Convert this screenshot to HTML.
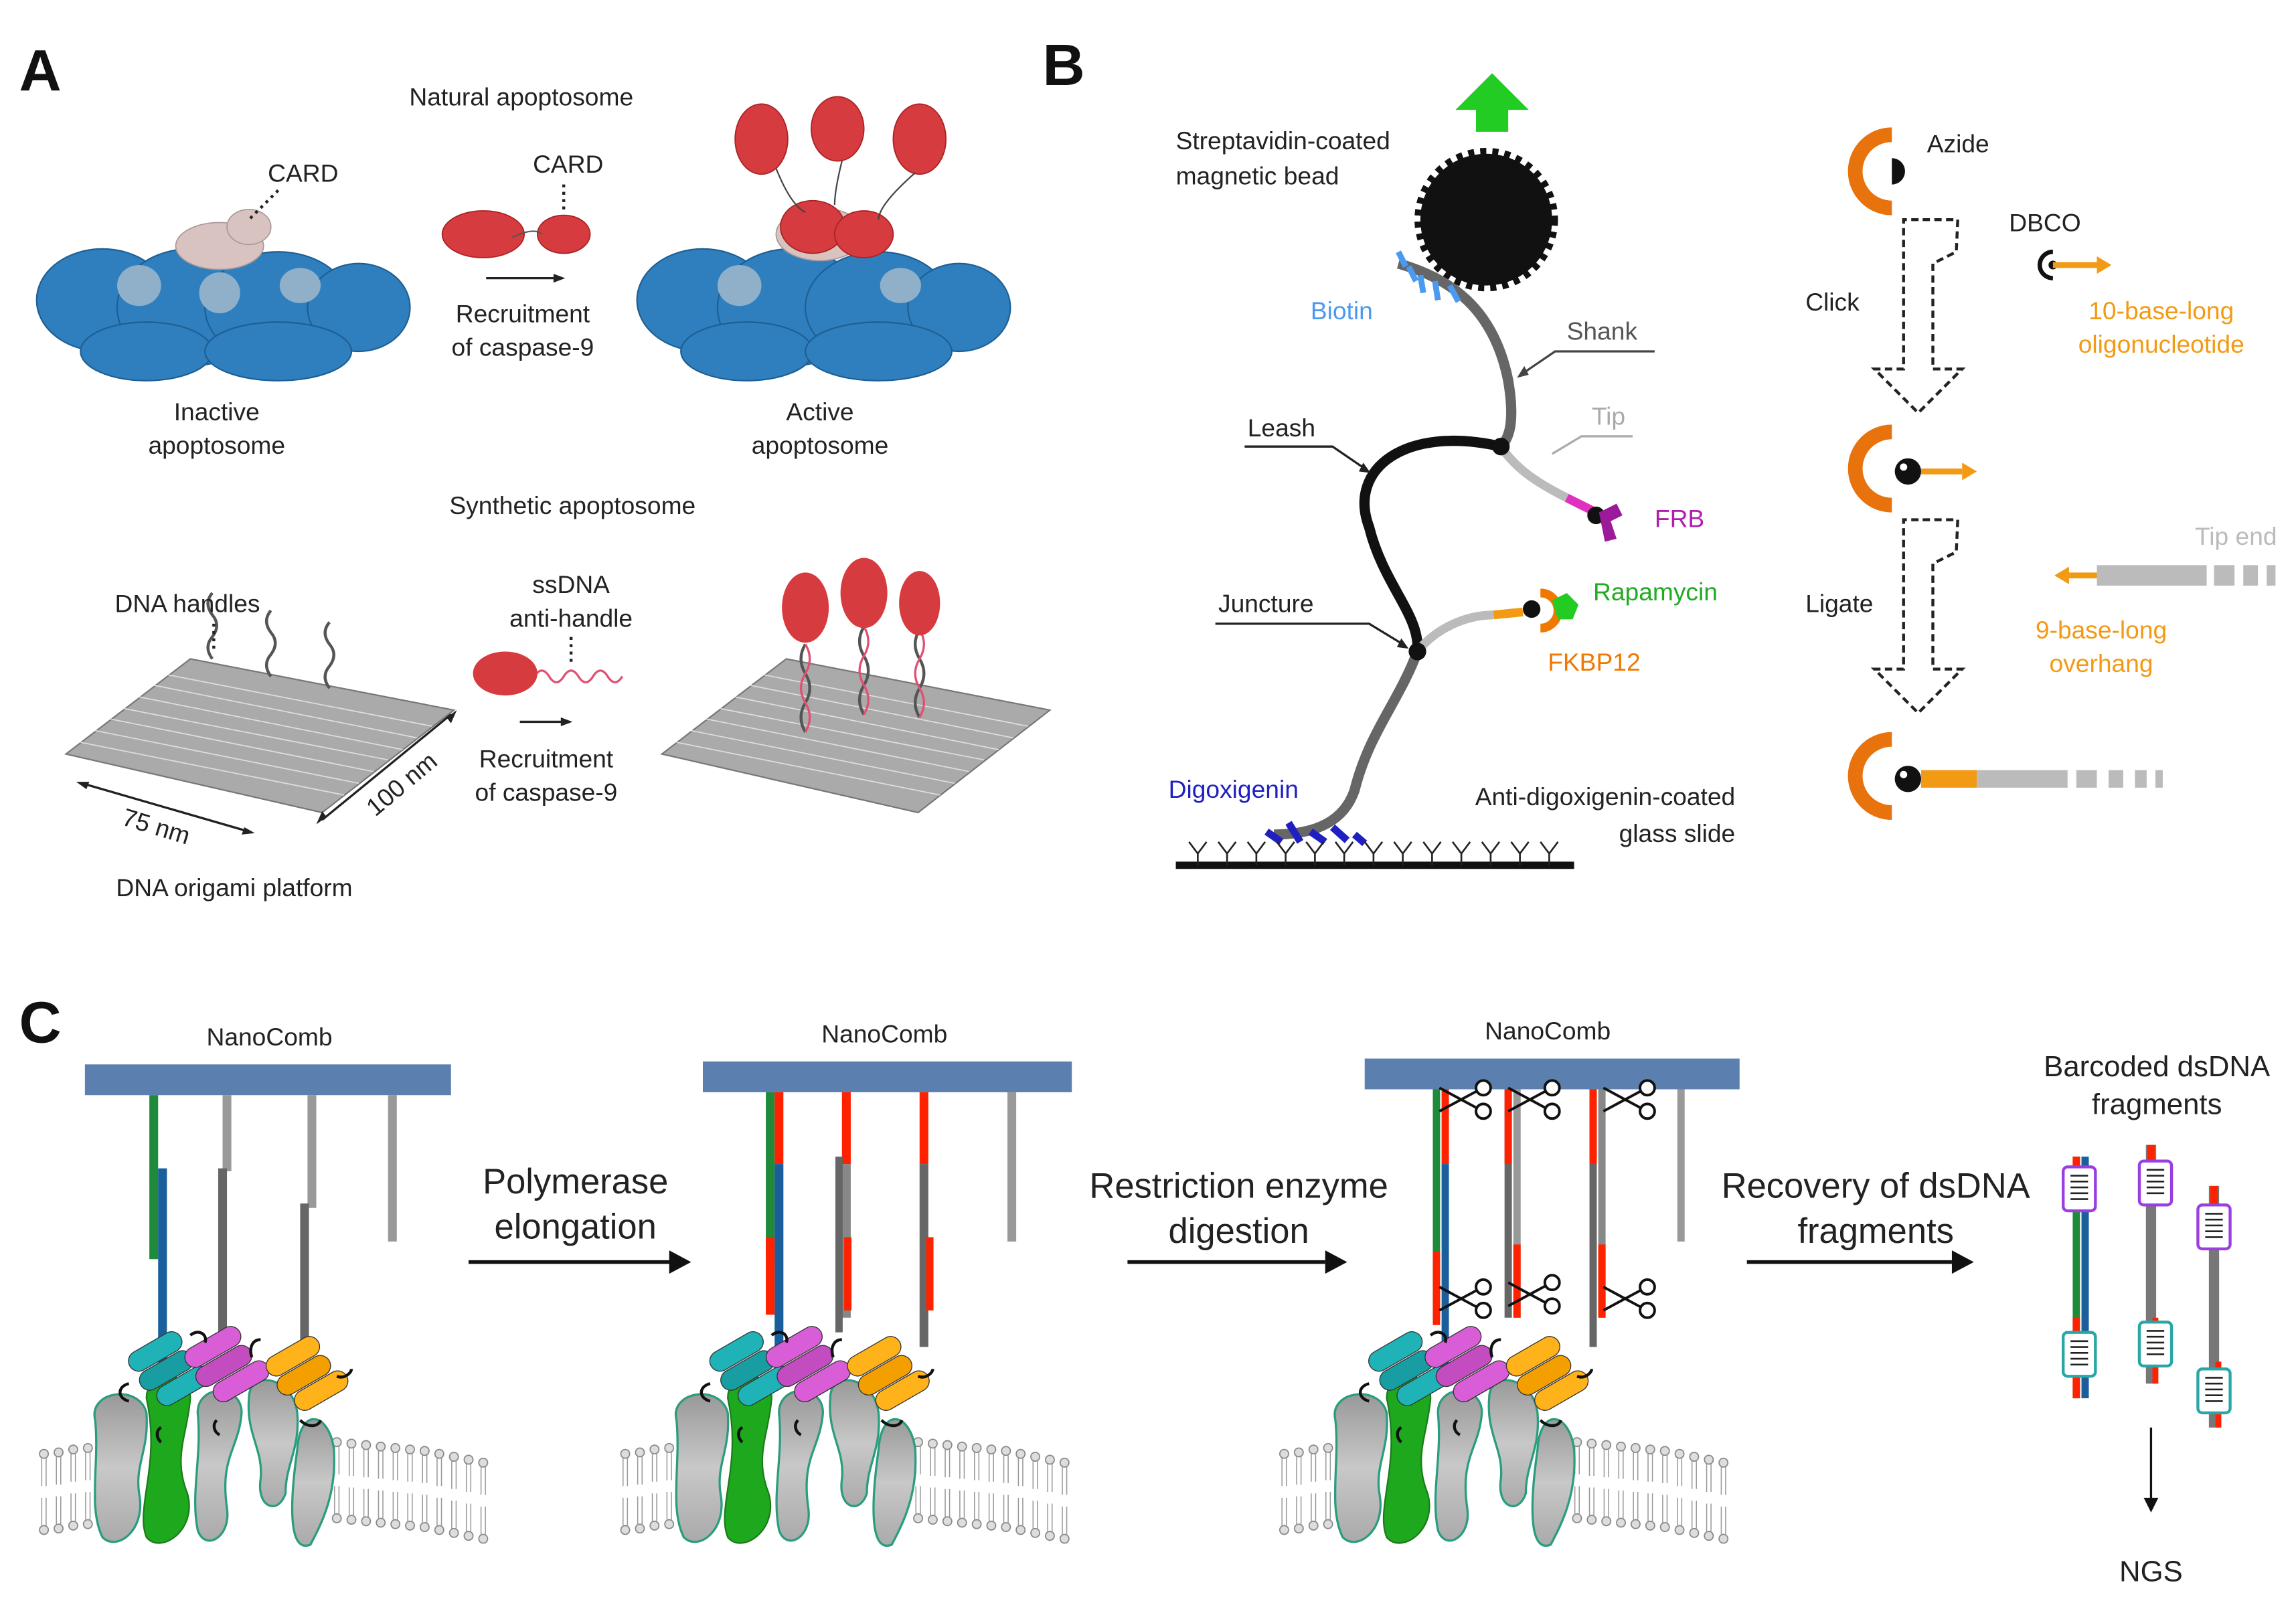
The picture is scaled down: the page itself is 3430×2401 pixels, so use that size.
<!DOCTYPE html>
<html><head><meta charset="utf-8"><style>
html,body{margin:0;padding:0;background:#fff}
svg{display:block}
text{font-family:"Liberation Sans",Arial,sans-serif}
</style></head><body>
<svg width="3430" height="2401" viewBox="0 0 1568 1097.6" xmlns="http://www.w3.org/2000/svg">
<defs>
<linearGradient id="gg" x1="0" x2="0" y1="0" y2="1"><stop offset="0" stop-color="#999"/><stop offset=".5" stop-color="#c8c8c8"/><stop offset="1" stop-color="#aaa"/></linearGradient>
<g id="lip">
  <circle cx="0" cy="0" r="3" fill="#ddd" stroke="#888" stroke-width=".8"/>
  <line x1="-1.5" y1="3" x2="-1.5" y2="22" stroke="#999" stroke-width=".7"/>
  <line x1="1.5" y1="3" x2="1.5" y2="22" stroke="#999" stroke-width=".7"/>
  <circle cx="0" cy="52" r="3" fill="#ddd" stroke="#888" stroke-width=".8"/>
  <line x1="-1.5" y1="30" x2="-1.5" y2="49" stroke="#999" stroke-width=".7"/>
  <line x1="1.5" y1="30" x2="1.5" y2="49" stroke="#999" stroke-width=".7"/>
</g>
<g id="mem">
  <use href="#lip" x="30" y="993"/><use href="#lip" x="40" y="992"/><use href="#lip" x="50" y="990"/><use href="#lip" x="60" y="989"/><use href="#lip" x="70" y="988"/>
  <use href="#lip" x="230" y="985"/><use href="#lip" x="240" y="986"/><use href="#lip" x="250" y="987"/><use href="#lip" x="260" y="988"/><use href="#lip" x="270" y="989"/><use href="#lip" x="280" y="990"/><use href="#lip" x="290" y="991"/><use href="#lip" x="300" y="993"/><use href="#lip" x="310" y="995"/><use href="#lip" x="320" y="997"/><use href="#lip" x="330" y="999"/>
  <path d="M65 970 C60 950 95 945 100 965 C102 990 92 1000 95 1020 C100 1045 80 1060 70 1050 C60 1030 68 1000 65 970Z" fill="url(#gg)" stroke="#2a9d7e" stroke-width="1.5"/>
  <path d="M100 955 C100 935 130 935 130 955 C128 980 118 995 128 1020 C135 1045 110 1062 100 1050 C92 1030 110 1000 100 955Z" fill="#1ea81e" stroke="#1a7a1a" stroke-width="1"/>
  <path d="M135 965 C135 945 165 945 165 965 C163 990 150 995 155 1030 C158 1050 140 1060 135 1045 C130 1020 138 995 135 965Z" fill="url(#gg)" stroke="#2a9d7e" stroke-width="1.5"/>
  <path d="M170 955 C170 935 200 940 203 965 C205 990 195 1000 195 1020 C190 1035 175 1030 178 1010 C180 990 168 980 170 955Z" fill="url(#gg)" stroke="#2a9d7e" stroke-width="1.5"/>
  <path d="M203 990 C205 960 225 965 228 990 C230 1020 220 1040 212 1055 C200 1060 196 1040 203 990Z" fill="url(#gg)" stroke="#2a9d7e" stroke-width="1.5"/>
  <g stroke="#333" stroke-width=".6">
  <g transform="rotate(-30 110 930)"><rect x="90" y="915" width="40" height="14" rx="7" fill="#1fb3b8"/><rect x="90" y="930" width="40" height="14" rx="7" fill="#189da3"/><rect x="95" y="945" width="40" height="14" rx="7" fill="#1fb3b8"/></g>
  <g transform="rotate(-30 150 930)"><rect x="130" y="912" width="42" height="14" rx="7" fill="#d85dd6"/><rect x="130" y="927" width="42" height="14" rx="7" fill="#c24cc0"/><rect x="135" y="942" width="42" height="14" rx="7" fill="#d85dd6"/></g>
  <g transform="rotate(-30 205 935)"><rect x="185" y="918" width="40" height="14" rx="7" fill="#ffb21a"/><rect x="185" y="933" width="40" height="14" rx="7" fill="#f49f00"/><rect x="190" y="948" width="40" height="14" rx="7" fill="#ffb21a"/></g>
  </g>
  <g fill="none" stroke="#111" stroke-width="2"><path d="M88 945 c-8 2 -8 10 0 12"/><path d="M130 912 c6 -5 12 0 10 5"/><path d="M178 915 c-6 0 -8 6 -6 12"/><path d="M230 940 c5 2 10 -2 10 -5"/><path d="M205 970 c5 5 12 5 14 0"/><path d="M110 975 c-4 2 -3 8 0 10"/><path d="M148 970 c-3 3 -2 8 2 10"/></g>
</g>
<g id="sc" fill="none" stroke="#111" stroke-width="1.8"><line x1="-12" y1="-8" x2="14" y2="6"/><line x1="-12" y1="8" x2="14" y2="-6"/><circle cx="18" cy="-8" r="5" fill="#fff"/><circle cx="18" cy="8" r="5" fill="#fff"/></g>
<g id="bc"><rect x="-11" y="-15" width="22" height="30" rx="3" fill="#fff" stroke-width="2"/><g stroke="#222" stroke-width="1.2"><line x1="-6" y1="-9" x2="6" y2="-9"/><line x1="-6" y1="-5" x2="6" y2="-5"/><line x1="-6" y1="-1" x2="6" y2="-1"/><line x1="-6" y1="3" x2="6" y2="3"/><line x1="-6" y1="7" x2="6" y2="7"/></g></g>
</defs>

<!-- ===== Panel A ===== -->
<text x="13" y="62" font-size="40" font-weight="bold" fill="#111">A</text>
<text x="356" y="72" font-size="17" text-anchor="middle" fill="#222">Natural apoptosome</text>
<g fill="#2f7fbf" stroke="#1d5f94" stroke-width="1">
<ellipse cx="70" cy="205" rx="45" ry="35"/><ellipse cx="130" cy="210" rx="50" ry="40"/><ellipse cx="190" cy="210" rx="50" ry="38"/><ellipse cx="245" cy="210" rx="35" ry="30"/><ellipse cx="100" cy="240" rx="45" ry="20"/><ellipse cx="190" cy="240" rx="50" ry="20"/>
<ellipse cx="480" cy="205" rx="45" ry="35"/><ellipse cx="540" cy="210" rx="50" ry="40"/><ellipse cx="600" cy="210" rx="50" ry="38"/><ellipse cx="655" cy="210" rx="35" ry="30"/><ellipse cx="510" cy="240" rx="45" ry="20"/><ellipse cx="600" cy="240" rx="50" ry="20"/>
</g>
<g fill="#8fb0c8"><ellipse cx="95" cy="195" rx="15" ry="14"/><ellipse cx="150" cy="200" rx="14" ry="14"/><ellipse cx="205" cy="195" rx="14" ry="12"/><ellipse cx="505" cy="195" rx="15" ry="14"/><ellipse cx="615" cy="195" rx="14" ry="12"/></g>
<g fill="#d8c3c0" stroke="#a99" stroke-width=".8"><ellipse cx="150" cy="168" rx="30" ry="16"/><ellipse cx="170" cy="155" rx="15" ry="12"/><ellipse cx="560" cy="160" rx="30" ry="18"/></g>
<text x="207" y="124" font-size="17" text-anchor="middle" fill="#222">CARD</text>
<line x1="190" y1="130" x2="170" y2="150" stroke="#222" stroke-width="2" stroke-dasharray="2 3"/>
<g fill="#d53b3f" stroke="#a22" stroke-width=".8">
<ellipse cx="330" cy="160" rx="28" ry="16"/><ellipse cx="385" cy="160" rx="18" ry="13"/>
<ellipse cx="520" cy="95" rx="18" ry="24"/><ellipse cx="572" cy="88" rx="18" ry="22"/><ellipse cx="628" cy="95" rx="18" ry="24"/><ellipse cx="555" cy="155" rx="22" ry="18"/><ellipse cx="590" cy="160" rx="20" ry="16"/>
</g>
<path d="M350 162 Q365 155 370 160" stroke="#555" fill="none"/>
<path d="M530 115 Q540 140 550 145 M575 110 Q570 130 570 140 M625 118 Q600 140 600 150" stroke="#444" fill="none"/>
<text x="388" y="118" font-size="17" text-anchor="middle" fill="#222">CARD</text>
<line x1="385" y1="126" x2="385" y2="145" stroke="#222" stroke-width="2" stroke-dasharray="2 3"/>
<line x1="332" y1="190" x2="380" y2="190" stroke="#222" stroke-width="1.5"/><path d="M386 190 l-8 -3 v6z" fill="#222"/>
<text x="357" y="220" font-size="17" text-anchor="middle" fill="#222">Recruitment</text>
<text x="357" y="243" font-size="17" text-anchor="middle" fill="#222">of caspase-9</text>
<text x="148" y="287" font-size="17" text-anchor="middle" fill="#222">Inactive</text>
<text x="148" y="310" font-size="17" text-anchor="middle" fill="#222">apoptosome</text>
<text x="560" y="287" font-size="17" text-anchor="middle" fill="#222">Active</text>
<text x="560" y="310" font-size="17" text-anchor="middle" fill="#222">apoptosome</text>
<text x="391" y="351" font-size="17" text-anchor="middle" fill="#222">Synthetic apoptosome</text>
<path d="M45 515 L130 450 L310 485 L220 555Z" fill="#aaa" stroke="#777"/>
<g stroke="#ddd" stroke-width=".8"><path d="M55 507 L235 543 M65 499 L245 535 M75 491 L255 527 M85 484 L265 519 M95 476 L275 512 M105 468 L285 504 M115 461 L295 496"/></g>
<path d="M452 515 L537 450 L717 485 L627 555Z" fill="#aaa" stroke="#777"/>
<g stroke="#ddd" stroke-width=".8"><path d="M462 507 L642 543 M472 499 L652 535 M482 491 L662 527 M492 484 L672 519 M502 476 L682 512 M512 468 L692 504 M522 461 L702 496"/></g>
<g stroke="#555" stroke-width="2" fill="none"><path d="M145 450 q-6 -8 0 -15 q6 -8 0 -15 q-6 -8 0 -15"/><path d="M185 462 q-6 -8 0 -15 q6 -8 0 -15 q-6 -8 0 -15"/><path d="M225 470 q-6 -8 0 -15 q6 -8 0 -15 q-6 -8 0 -15"/>
<path d="M550 500 q-6 -10 0 -20 q6 -10 0 -20 q-6 -10 0 -20"/><path d="M590 488 q-6 -10 0 -20 q6 -10 0 -20 q-6 -10 0 -20"/><path d="M628 490 q-6 -10 0 -20 q6 -10 0 -20 q-6 -10 0 -20"/></g>
<g stroke="#e05070" stroke-width="1.5" fill="none"><path d="M550 500 q6 -10 0 -20 q-6 -10 0 -20 q6 -10 0 -20"/><path d="M590 488 q6 -10 0 -20 q-6 -10 0 -20 q6 -10 0 -20"/><path d="M628 490 q6 -10 0 -20 q-6 -10 0 -20 q6 -10 0 -20"/><path d="M365 462 q5 -8 10 0 q5 8 10 0 q5 -8 10 0 q5 8 10 0 q5 -8 10 0 q5 8 10 0"/></g>
<g fill="#d53b3f"><ellipse cx="345" cy="460" rx="22" ry="15"/><ellipse cx="550" cy="415" rx="16" ry="24"/><ellipse cx="590" cy="405" rx="16" ry="24"/><ellipse cx="628" cy="412" rx="14" ry="22"/></g>
<text x="128" y="418" font-size="17" text-anchor="middle" fill="#222">DNA handles</text>
<line x1="146" y1="426" x2="146" y2="443" stroke="#222" stroke-width="2" stroke-dasharray="2 3"/>
<text x="390" y="405" font-size="17" text-anchor="middle" fill="#222">ssDNA</text>
<text x="390" y="428" font-size="17" text-anchor="middle" fill="#222">anti-handle</text>
<line x1="390" y1="435" x2="390" y2="452" stroke="#222" stroke-width="2" stroke-dasharray="2 3"/>
<line x1="355" y1="493" x2="385" y2="493" stroke="#222" stroke-width="1.5"/><path d="M391 493 l-8 -3 v6z" fill="#222"/>
<text x="373" y="524" font-size="17" text-anchor="middle" fill="#222">Recruitment</text>
<text x="373" y="547" font-size="17" text-anchor="middle" fill="#222">of caspase-9</text>
<line x1="56" y1="535" x2="170" y2="568" stroke="#222" stroke-width="1.5"/><path d="M52 534 l9 0 -2 5z M174 569 l-9 1 2 -5z" fill="#222"/>
<text x="105" y="570" font-size="17" transform="rotate(17 105 570)" text-anchor="middle" fill="#222">75 nm</text>
<line x1="220" y1="560" x2="308" y2="488" stroke="#222" stroke-width="1.5"/><path d="M216 563 l4 -9 3 4z M312 485 l-4 9 -3 -4z" fill="#222"/>
<text x="278" y="540" font-size="17" transform="rotate(-40 278 540)" text-anchor="middle" fill="#222">100 nm</text>
<text x="160" y="612" font-size="17" text-anchor="middle" fill="#222">DNA origami platform</text>

<!-- ===== Panel B ===== -->
<text x="712" y="58" font-size="40" font-weight="bold" fill="#111">B</text>
<path d="M1008 90 v-15 h-14 l25 -25 25 25 h-14 v15z" fill="#22cc22"/>
<text x="803" y="102" font-size="17" fill="#222">Streptavidin-coated</text>
<text x="803" y="126" font-size="17" fill="#222">magnetic bead</text>
<circle cx="1015" cy="150" r="45" fill="#111" stroke="#111" stroke-width="8" stroke-dasharray="4 4"/>
<path d="M955 180 C990 190 1020 210 1030 260 C1035 290 1030 300 1025 305" stroke="#666" stroke-width="7" fill="none"/>
<path d="M1025 305 C1035 320 1050 330 1070 340" stroke="#bbb" stroke-width="6" fill="none"/>
<path d="M1070 340 L1090 350" stroke="#e030c0" stroke-width="6"/>
<circle cx="1090" cy="352" r="6" fill="#111"/>
<path d="M1092 350 l12 -6 4 8 -8 4 4 12 -8 2z" fill="#9a1a9a"/>
<path d="M1025 305 C960 290 920 320 935 360 C945 400 970 420 968 445" stroke="#111" stroke-width="7" fill="none"/>
<path d="M968 445 C980 430 1000 420 1020 420" stroke="#bbb" stroke-width="6" fill="none"/>
<path d="M1020 420 L1040 418" stroke="#f39a14" stroke-width="6"/>
<circle cx="1046" cy="416" r="6" fill="#111"/>
<path d="M1052 405 a12 12 0 1 1 0 24" stroke="#f07800" stroke-width="6" fill="none"/>
<path d="M1060 410 l10 -5 8 8 -4 10 -10 0z" fill="#22cc22"/>
<path d="M968 445 C955 480 935 500 925 540 C918 560 900 570 870 570" stroke="#666" stroke-width="7" fill="none"/>
<circle cx="1025" cy="305" r="6" fill="#111"/><circle cx="968" cy="445" r="6" fill="#111"/>
<g stroke="#4a9af0" stroke-width="4"><line x1="955" y1="172" x2="960" y2="182"/><line x1="962" y1="182" x2="967" y2="192"/><line x1="970" y1="188" x2="972" y2="200"/><line x1="980" y1="192" x2="982" y2="205"/><line x1="990" y1="195" x2="996" y2="206"/></g>
<text x="895" y="218" font-size="17" fill="#4a9af0">Biotin</text>
<text x="1070" y="232" font-size="17" fill="#555">Shank</text>
<path d="M1130 240 L1062 240 L1040 255" stroke="#444" stroke-width="1.5" fill="none"/><path d="M1036 258 l8 -2 -3 -6z" fill="#444"/>
<text x="1087" y="290" font-size="17" fill="#aaa">Tip</text>
<path d="M1115 298 L1080 298 L1060 310" stroke="#aaa" stroke-width="1.5" fill="none"/>
<text x="1130" y="360" font-size="17" fill="#b01cb0">FRB</text>
<text x="852" y="298" font-size="17" fill="#222">Leash</text>
<path d="M850 305 L910 305 L932 320" stroke="#222" stroke-width="1.5" fill="none"/><path d="M936 323 l-8 -1 3 -6z" fill="#222"/>
<text x="1088" y="410" font-size="17" fill="#22aa22">Rapamycin</text>
<text x="1057" y="458" font-size="17" fill="#f07800">FKBP12</text>
<text x="832" y="418" font-size="17" fill="#222">Juncture</text>
<path d="M830 426 L935 426 L958 440" stroke="#222" stroke-width="1.5" fill="none"/><path d="M962 443 l-8 -1 3 -6z" fill="#222"/>
<text x="798" y="545" font-size="17" fill="#2020c0">Digoxigenin</text>
<g stroke="#2020c0" stroke-width="5"><line x1="865" y1="568" x2="875" y2="575"/><line x1="880" y1="562" x2="888" y2="575"/><line x1="895" y1="568" x2="905" y2="575"/><line x1="910" y1="565" x2="920" y2="574"/><line x1="925" y1="570" x2="932" y2="576"/></g>
<line x1="803" y1="591" x2="1075" y2="591" stroke="#111" stroke-width="5"/>
<g stroke="#222" stroke-width="1.2" fill="none">
<path d="M812 575 l6 8 6 -8 M818 583 v8 M832 575 l6 8 6 -8 M838 583 v8 M852 575 l6 8 6 -8 M858 583 v8 M872 575 l6 8 6 -8 M878 583 v8 M892 575 l6 8 6 -8 M898 583 v8 M912 575 l6 8 6 -8 M918 583 v8 M932 575 l6 8 6 -8 M938 583 v8 M952 575 l6 8 6 -8 M958 583 v8 M972 575 l6 8 6 -8 M978 583 v8 M992 575 l6 8 6 -8 M998 583 v8 M1012 575 l6 8 6 -8 M1018 583 v8 M1032 575 l6 8 6 -8 M1038 583 v8 M1052 575 l6 8 6 -8 M1058 583 v8"/></g>
<text x="1185" y="550" font-size="17" text-anchor="end" fill="#222">Anti-digoxigenin-coated</text>
<text x="1185" y="575" font-size="17" text-anchor="end" fill="#222">glass slide</text>
<path d="M1292 92 a25 25 0 0 0 0 50" stroke="#e8720c" stroke-width="10" fill="none"/>
<path d="M1292 108 a9 9 0 0 1 0 18z" fill="#111"/>
<text x="1316" y="104" font-size="17" fill="#222">Azide</text>
<text x="1372" y="158" font-size="17" fill="#222">DBCO</text>
<path d="M1402 172 a9 9 0 0 0 0 18" stroke="#111" stroke-width="3" fill="none"/><circle cx="1402" cy="181" r="3" fill="#111"/>
<line x1="1402" y1="181" x2="1432" y2="181" stroke="#f39a14" stroke-width="4"/><path d="M1442 181 l-10 -6 v12z" fill="#f39a14"/>
<text x="1476" y="218" font-size="17" fill="#f39a14" text-anchor="middle">10-base-long</text>
<text x="1476" y="241" font-size="17" fill="#f39a14" text-anchor="middle">oligonucleotide</text>
<path d="M1313 150 h24 l-1 22 -16 8 v72 h20 l-30 30 -30 -30 h20 v-102z" fill="none" stroke="#222" stroke-width="2" stroke-dasharray="5 3"/>
<text x="1233" y="212" font-size="17" fill="#222">Click</text>
<path d="M1292 295 a25 25 0 0 0 0 50" stroke="#e8720c" stroke-width="10" fill="none"/>
<circle cx="1303" cy="322" r="9" fill="#111"/><circle cx="1300" cy="319" r="2.5" fill="#fff"/>
<line x1="1312" y1="322" x2="1340" y2="322" stroke="#f39a14" stroke-width="4"/><path d="M1350 322 l-10 -6 v12z" fill="#f39a14"/>
<path d="M1313 355 h24 l-1 22 -16 8 v72 h20 l-30 30 -30 -30 h20 v-102z" fill="none" stroke="#222" stroke-width="2" stroke-dasharray="5 3"/>
<text x="1233" y="418" font-size="17" fill="#222">Ligate</text>
<text x="1555" y="372" font-size="17" fill="#bbb" text-anchor="end">Tip end</text>
<path d="M1403 393 l10 -6 v12z" fill="#f39a14"/><line x1="1410" y1="393" x2="1432" y2="393" stroke="#f39a14" stroke-width="4"/>
<rect x="1432" y="386" width="75" height="14" fill="#bbb"/><rect x="1512" y="386" width="14" height="14" fill="#bbb"/><rect x="1532" y="386" width="10" height="14" fill="#bbb"/><rect x="1548" y="386" width="6" height="14" fill="#bbb"/>
<text x="1435" y="436" font-size="17" fill="#f39a14" text-anchor="middle">9-base-long</text>
<text x="1435" y="459" font-size="17" fill="#f39a14" text-anchor="middle">overhang</text>
<path d="M1292 505 a25 25 0 0 0 0 50" stroke="#e8720c" stroke-width="10" fill="none"/>
<circle cx="1303" cy="532" r="9" fill="#111"/><circle cx="1300" cy="529" r="2.5" fill="#fff"/>
<line x1="1312" y1="532" x2="1350" y2="532" stroke="#f39a14" stroke-width="12"/>
<rect x="1350" y="526" width="62" height="12" fill="#bbb"/><rect x="1418" y="526" width="14" height="12" fill="#bbb"/><rect x="1440" y="526" width="10" height="12" fill="#bbb"/><rect x="1458" y="526" width="8" height="12" fill="#bbb"/><rect x="1472" y="526" width="5" height="12" fill="#bbb"/>

<!-- ===== Panel C ===== -->
<text x="13" y="712" font-size="40" font-weight="bold" fill="#111">C</text>
<text x="184" y="714" font-size="17" text-anchor="middle" fill="#222">NanoComb</text>
<rect x="58" y="727" width="250" height="21" fill="#5b7fae"/>
<line x1="105" y1="748" x2="105" y2="860" stroke="#1f8a3a" stroke-width="6"/>
<line x1="111" y1="798" x2="111" y2="935" stroke="#1a5e9c" stroke-width="6"/>
<line x1="155" y1="748" x2="155" y2="800" stroke="#999" stroke-width="6"/><line x1="152" y1="798" x2="152" y2="910" stroke="#666" stroke-width="6"/>
<line x1="213" y1="748" x2="213" y2="825" stroke="#999" stroke-width="6"/><line x1="208" y1="822" x2="208" y2="920" stroke="#666" stroke-width="6"/>
<line x1="268" y1="748" x2="268" y2="848" stroke="#999" stroke-width="6"/>
<use href="#mem"/>
<text x="393" y="815" font-size="24" text-anchor="middle" fill="#222">Polymerase</text>
<text x="393" y="846" font-size="24" text-anchor="middle" fill="#222">elongation</text>
<line x1="320" y1="862" x2="458" y2="862" stroke="#111" stroke-width="2.5"/><path d="M472 862 l-15 -8 v16z" fill="#111"/>
<text x="604" y="712" font-size="17" text-anchor="middle" fill="#222">NanoComb</text>
<rect x="480" y="725" width="252" height="21" fill="#5b7fae"/>
<g transform="translate(423 0)">
<line x1="103" y1="746" x2="103" y2="860" stroke="#1f8a3a" stroke-width="6"/>
<line x1="109" y1="746" x2="109" y2="795" stroke="#ff2200" stroke-width="6"/><line x1="109" y1="795" x2="109" y2="935" stroke="#1a5e9c" stroke-width="6"/>
<line x1="103" y1="845" x2="103" y2="898" stroke="#ff2200" stroke-width="6"/>
<line x1="155" y1="746" x2="155" y2="795" stroke="#ff2200" stroke-width="6"/><line x1="155" y1="795" x2="155" y2="900" stroke="#888" stroke-width="6"/><line x1="150" y1="790" x2="150" y2="910" stroke="#666" stroke-width="5"/><line x1="156" y1="845" x2="156" y2="895" stroke="#ff2200" stroke-width="5"/>
<line x1="208" y1="746" x2="208" y2="795" stroke="#ff2200" stroke-width="6"/><line x1="208" y1="795" x2="208" y2="920" stroke="#666" stroke-width="6"/><line x1="212" y1="845" x2="212" y2="895" stroke="#ff2200" stroke-width="5"/>
<line x1="268" y1="746" x2="268" y2="848" stroke="#999" stroke-width="6"/>
</g>
<use href="#mem" x="397"/>
<text x="846" y="818" font-size="24" text-anchor="middle" fill="#222">Restriction enzyme</text>
<text x="846" y="849" font-size="24" text-anchor="middle" fill="#222">digestion</text>
<line x1="770" y1="862" x2="905" y2="862" stroke="#111" stroke-width="2.5"/><path d="M920 862 l-15 -8 v16z" fill="#111"/>
<text x="1057" y="710" font-size="17" text-anchor="middle" fill="#222">NanoComb</text>
<rect x="932" y="723" width="256" height="21" fill="#5b7fae"/>
<g>
<line x1="981" y1="744" x2="981" y2="900" stroke="#1f8a3a" stroke-width="5"/><line x1="981" y1="855" x2="981" y2="905" stroke="#ff2200" stroke-width="5"/>
<line x1="987" y1="744" x2="987" y2="795" stroke="#ff2200" stroke-width="5"/><line x1="987" y1="795" x2="987" y2="935" stroke="#1a5e9c" stroke-width="5"/>
<line x1="1030" y1="744" x2="1030" y2="900" stroke="#666" stroke-width="5"/><line x1="1030" y1="744" x2="1030" y2="795" stroke="#ff2200" stroke-width="5"/><line x1="1036" y1="744" x2="1036" y2="900" stroke="#999" stroke-width="5"/><line x1="1036" y1="850" x2="1036" y2="900" stroke="#ff2200" stroke-width="5"/>
<line x1="1088" y1="744" x2="1088" y2="920" stroke="#666" stroke-width="5"/><line x1="1088" y1="744" x2="1088" y2="795" stroke="#ff2200" stroke-width="5"/><line x1="1094" y1="744" x2="1094" y2="900" stroke="#888" stroke-width="5"/><line x1="1094" y1="850" x2="1094" y2="900" stroke="#ff2200" stroke-width="5"/>
<line x1="1148" y1="744" x2="1148" y2="848" stroke="#999" stroke-width="5"/>
</g>
<use href="#sc" x="995" y="751"/><use href="#sc" x="1042" y="751"/><use href="#sc" x="1107" y="751"/>
<use href="#sc" x="995" y="887"/><use href="#sc" x="1042" y="884"/><use href="#sc" x="1107" y="887"/>
<use href="#mem" x="847"/>
<text x="1281" y="818" font-size="24" text-anchor="middle" fill="#222">Recovery of dsDNA</text>
<text x="1281" y="849" font-size="24" text-anchor="middle" fill="#222">fragments</text>
<line x1="1193" y1="862" x2="1333" y2="862" stroke="#111" stroke-width="2.5"/><path d="M1348 862 l-15 -8 v16z" fill="#111"/>
<text x="1473" y="735" font-size="20" text-anchor="middle" fill="#222">Barcoded dsDNA</text>
<text x="1473" y="761" font-size="20" text-anchor="middle" fill="#222">fragments</text>
<line x1="1418" y1="790" x2="1418" y2="955" stroke="#1f8a3a" stroke-width="5"/><line x1="1424" y1="790" x2="1424" y2="955" stroke="#1a5e9c" stroke-width="5"/><line x1="1418" y1="790" x2="1418" y2="825" stroke="#ff2200" stroke-width="5"/><line x1="1418" y1="900" x2="1418" y2="955" stroke="#ff2200" stroke-width="5"/>
<line x1="1469" y1="782" x2="1469" y2="945" stroke="#777" stroke-width="7"/><line x1="1469" y1="782" x2="1469" y2="820" stroke="#ff2200" stroke-width="5"/><line x1="1472" y1="900" x2="1472" y2="945" stroke="#ff2200" stroke-width="4"/>
<line x1="1512" y1="810" x2="1512" y2="975" stroke="#777" stroke-width="7"/><line x1="1512" y1="810" x2="1512" y2="845" stroke="#ff2200" stroke-width="5"/><line x1="1515" y1="930" x2="1515" y2="975" stroke="#ff2200" stroke-width="4"/>
<use href="#bc" x="1420" y="812" stroke="#9a3ee0"/><use href="#bc" x="1472" y="808" stroke="#9a3ee0"/><use href="#bc" x="1512" y="838" stroke="#9a3ee0"/>
<use href="#bc" x="1420" y="925" stroke="#2aa6a6"/><use href="#bc" x="1472" y="918" stroke="#2aa6a6"/><use href="#bc" x="1512" y="950" stroke="#2aa6a6"/>
<line x1="1469" y1="975" x2="1469" y2="1025" stroke="#111" stroke-width="1.5"/><path d="M1469 1033 l-5 -10 h10z" fill="#111"/>
<text x="1469" y="1080" font-size="20" text-anchor="middle" fill="#222">NGS</text>
</svg>
</body></html>
